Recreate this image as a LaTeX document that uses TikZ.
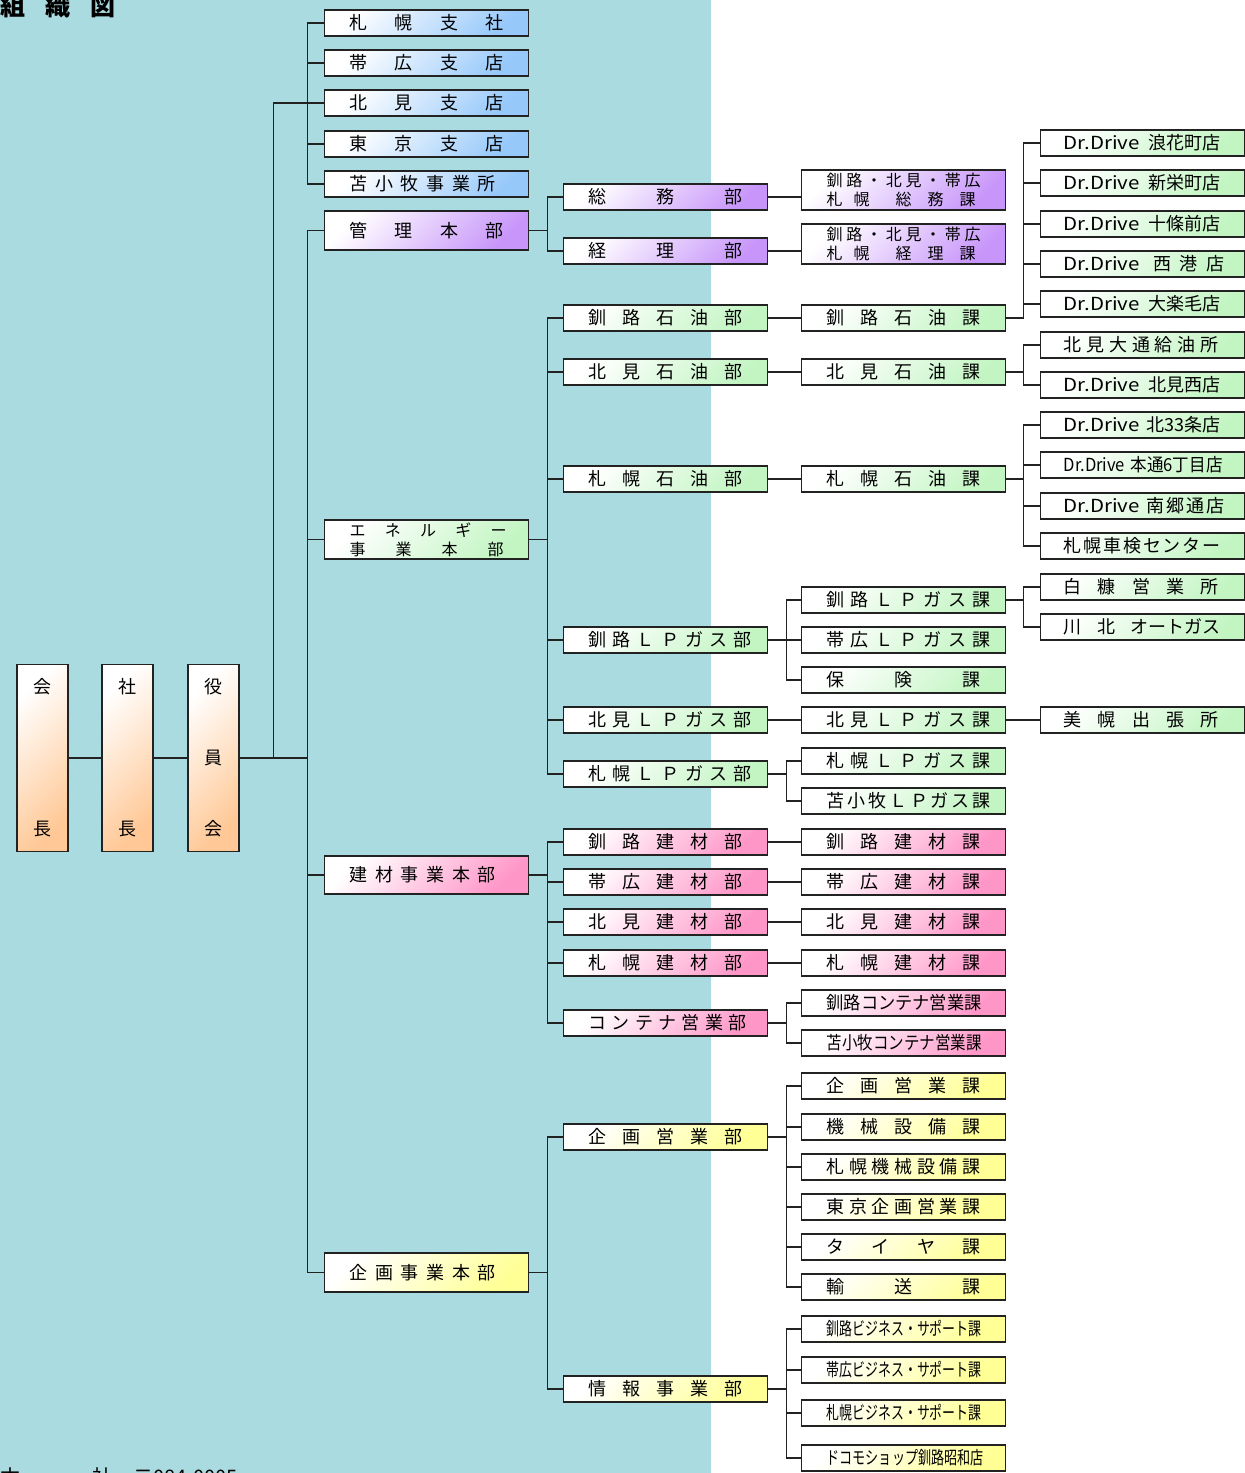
\documentclass[tikz,border=0pt]{standalone}
\usepackage{fontspec}
\setmainfont{Noto Sans CJK JP}
\usepackage{graphicx}
\usetikzlibrary{calc}

\definecolor{bgblue}{RGB}{170,219,224}
\definecolor{lineC}{RGB}{34,34,34}
\definecolor{cBlue}{RGB}{150,200,250}
\definecolor{cPurple}{RGB}{200,150,250}
\definecolor{cGreen}{RGB}{195,245,195}
\definecolor{cPink}{RGB}{255,150,200}
\definecolor{cYellow}{RGB}{255,255,150}
\definecolor{cOrange}{RGB}{255,200,150}

\newcommand{\lbl}[2][154pt]{{\spaceskip=0pt plus 1fil\xspaceskip=0pt plus 1fil\relax\makebox[#1][s]{#2}}}
\newcommand{\lblc}[2][155pt]{\resizebox{#1}{\height}{#2}}
\newcommand{\drv}{\resizebox{76pt}{\height}{Dr.Drive}}

\begin{document}
\begin{tikzpicture}[x=1pt, y=-1pt]
    \tikzstyle{box} = [draw=lineC, line width=1.3pt, rectangle, minimum width=204, minimum height=26, inner sep=0pt, text width=154pt, align=left, font=\fontsize{18}{20}\selectfont]
    \tikzstyle{bluebox} = [box, top color=white, bottom color=cBlue, shading angle=45]
    \tikzstyle{purplebox} = [box, top color=white, bottom color=cPurple, shading angle=45]
    \tikzstyle{greenbox} = [box, top color=white, bottom color=cGreen, shading angle=45]
    \tikzstyle{pinkbox} = [box, top color=white, bottom color=cPink, shading angle=45]
    \tikzstyle{yellowbox} = [box, top color=white, bottom color=cYellow, shading angle=45]
    \tikzstyle{twoline} = [minimum height=39, font=\fontsize{16}{19}\selectfont]
    \tikzstyle{shopbox} = [greenbox, text width=158pt]
    \tikzstyle{topbox} = [draw=lineC, line width=1.3pt, rectangle, minimum width=51, minimum height=187, inner sep=0pt, align=center, font=\fontsize{18}{22}\selectfont, top color=white, bottom color=cOrange, shading angle=45]
    \tikzstyle{conn} = [draw=lineC, line width=1.3pt]

    \useasboundingbox (0,0) rectangle (1245,1473);
    \fill[white] (0,0) rectangle (1245,1473);
    \fill[bgblue] (0,0) rectangle (711,1473);

    \node [anchor=base west, inner sep=0pt, font=\fontsize{25}{25}\selectfont\bfseries] (title) at (0,15) {\makebox[115pt][s]{組\hfill 織\hfill 図}};
    \node [anchor=base west, inner sep=0pt, font=\fontsize{20}{20}\selectfont] (address) at (0,1484) {\makebox[112pt][s]{本\hfill 社}\hspace{21pt}〒084-0005};

    % top
    \node [topbox] (kaicho) at (42.5,758) {会\\[120pt]長};
    \node [topbox] (shacho) at (127.5,758) {社\\[120pt]長};
    \node [topbox] (yakuin) at (213.5,758) {役\\[49pt]員\\[49pt]会};

    % branches and divisions
    \node [bluebox, anchor=west] (shisha) at (324,23) {\lbl{札 幌 支 社}};
    \node [bluebox, anchor=west] (obihiro) at (324,63) {\lbl{帯 広 支 店}};
    \node [bluebox, anchor=west] (kitami) at (324,103) {\lbl{北 見 支 店}};
    \node [bluebox, anchor=west] (tokyo) at (324,144) {\lbl{東 京 支 店}};
    \node [bluebox, anchor=west] (tomako) at (324,184) {\lbl[146pt]{苫 小 牧 事 業 所}};
    \node [purplebox, anchor=west, minimum height=39] (kanri) at (324,230.5) {\lbl{管 理 本 部}};
    \node [greenbox, twoline, anchor=west] (energy) at (324,539.5) {\lbl[157pt]{エ ネ ル ギ ー}\\\lbl{事 業 本 部}};
    \node [pinkbox, anchor=west, minimum height=38] (kenzai) at (324,875) {\lbl[146pt]{建 材 事 業 本 部}};
    \node [yellowbox, anchor=west, minimum height=39] (kikaku) at (324,1272.5) {\lbl[146pt]{企 画 事 業 本 部}};

    % departments
    \node [purplebox, anchor=west] (somu) at (563,197) {\lbl{総 務 部}};
    \node [purplebox, anchor=west] (keiri) at (563,251) {\lbl{経 理 部}};
    \node [greenbox, anchor=west] (krOil) at (563,318) {\lbl{釧 路 石 油 部}};
    \node [greenbox, anchor=west] (ktOil) at (563,372) {\lbl{北 見 石 油 部}};
    \node [greenbox, anchor=west] (spOil) at (563,479) {\lbl{札 幌 石 油 部}};
    \node [greenbox, anchor=west] (krLp) at (563,640) {\lbl[163pt]{釧 路 Ｌ Ｐ ガ ス 部}};
    \node [greenbox, anchor=west] (ktLp) at (563,720) {\lbl[163pt]{北 見 Ｌ Ｐ ガ ス 部}};
    \node [greenbox, anchor=west] (spLp) at (563,774) {\lbl[163pt]{札 幌 Ｌ Ｐ ガ ス 部}};
    \node [pinkbox, anchor=west] (krKz) at (563,842) {\lbl{釧 路 建 材 部}};
    \node [pinkbox, anchor=west] (obKz) at (563,882) {\lbl{帯 広 建 材 部}};
    \node [pinkbox, anchor=west] (ktKz) at (563,922) {\lbl{北 見 建 材 部}};
    \node [pinkbox, anchor=west] (spKz) at (563,963) {\lbl{札 幌 建 材 部}};
    \node [pinkbox, anchor=west] (cont) at (563,1023) {\lbl[158pt]{コ ン テ ナ 営 業 部}};
    \node [yellowbox, anchor=west] (kkEi) at (563,1137) {\lbl{企 画 営 業 部}};
    \node [yellowbox, anchor=west] (joho) at (563,1389) {\lbl{情 報 事 業 部}};

    % sections
    \node [purplebox, twoline, minimum height=40, anchor=west] (somuKa) at (801,190) {\lbl{釧 路 ・ 北 見 ・ 帯 広}\\札\hspace{11pt}幌\hspace{26pt}総\hspace{16pt}務\hspace{16pt}課};
    \node [purplebox, twoline, minimum height=40, anchor=west] (keiriKa) at (801,244) {\lbl{釧 路 ・ 北 見 ・ 帯 広}\\札\hspace{11pt}幌\hspace{26pt}経\hspace{16pt}理\hspace{16pt}課};
    \node [greenbox, anchor=west] (krOilKa) at (801,318) {\lbl{釧 路 石 油 課}};
    \node [greenbox, anchor=west] (ktOilKa) at (801,372) {\lbl{北 見 石 油 課}};
    \node [greenbox, anchor=west] (spOilKa) at (801,479) {\lbl{札 幌 石 油 課}};
    \node [greenbox, anchor=west] (krLpKa) at (801,600) {\lbl[164pt]{釧 路 Ｌ Ｐ ガ ス 課}};
    \node [greenbox, anchor=west] (obLpKa) at (801,640) {\lbl[164pt]{帯 広 Ｌ Ｐ ガ ス 課}};
    \node [greenbox, anchor=west] (hoken) at (801,680) {\lbl{保 険 課}};
    \node [greenbox, anchor=west] (ktLpKa) at (801,720) {\lbl[164pt]{北 見 Ｌ Ｐ ガ ス 課}};
    \node [greenbox, anchor=west] (spLpKa) at (801,761) {\lbl[164pt]{札 幌 Ｌ Ｐ ガ ス 課}};
    \node [greenbox, anchor=west] (tmLpKa) at (801,801) {\lbl[164pt]{苫 小 牧 Ｌ Ｐ ガ ス 課}};
    \node [pinkbox, anchor=west] (krKzKa) at (801,842) {\lbl{釧 路 建 材 課}};
    \node [pinkbox, anchor=west] (obKzKa) at (801,882) {\lbl{帯 広 建 材 課}};
    \node [pinkbox, anchor=west] (ktKzKa) at (801,922) {\lbl{北 見 建 材 課}};
    \node [pinkbox, anchor=west] (spKzKa) at (801,963) {\lbl{札 幌 建 材 課}};
    \node [pinkbox, anchor=west] (krCont) at (801,1003) {\lblc{釧路コンテナ営業課}};
    \node [pinkbox, anchor=west] (tmCont) at (801,1043) {\lblc{苫小牧コンテナ営業課}};
    \node [yellowbox, anchor=west] (kkEiKa) at (801,1086) {\lbl{企 画 営 業 課}};
    \node [yellowbox, anchor=west] (kikai) at (801,1127) {\lbl{機 械 設 備 課}};
    \node [yellowbox, anchor=west] (spKikai) at (801,1167) {\lbl{札 幌 機 械 設 備 課}};
    \node [yellowbox, anchor=west] (tkKikaku) at (801,1207) {\lbl{東 京 企 画 営 業 課}};
    \node [yellowbox, anchor=west] (tire) at (801,1247) {\lbl{タ イ ヤ 課}};
    \node [yellowbox, anchor=west] (yuso) at (801,1287) {\lbl{輸 送 課}};
    \node [yellowbox, anchor=west] (krBiz) at (801,1329) {\lblc{釧路ビジネス・サポート課}};
    \node [yellowbox, anchor=west] (obBiz) at (801,1370) {\lblc{帯広ビジネス・サポート課}};
    \node [yellowbox, anchor=west] (spBiz) at (801,1413) {\lblc{札幌ビジネス・サポート課}};
    \node [yellowbox, anchor=west] (docomo) at (801,1458) {\lblc[157pt]{ドコモショップ釧路昭和店}};

    % shops
    \node [shopbox, anchor=west] (naniwa) at (1040,143) {\lbl[157pt]{\drv{} 浪花町店}};
    \node [shopbox, anchor=west] (shinei) at (1040,183) {\lbl[157pt]{\drv{} 新栄町店}};
    \node [shopbox, anchor=west] (jujo) at (1040,224) {\lbl[157pt]{\drv{} 十條前店}};
    \node [shopbox, anchor=west] (nishiko) at (1040,264) {\lbl[161pt]{\drv\hspace{5pt} 西 港 店}};
    \node [shopbox, anchor=west] (otano) at (1040,304) {\lbl[157pt]{\drv{} 大楽毛店}};
    \node [shopbox, anchor=west] (odori) at (1040,345) {\lbl[155pt]{北 見 大 通 給 油 所}};
    \node [shopbox, anchor=west] (ktWest) at (1040,385) {\lbl[157pt]{\drv{} 北見西店}};
    \node [shopbox, anchor=west] (kita33) at (1040,425) {\lbl[157pt]{\drv{} 北33条店}};
    \node [shopbox, anchor=west] (hondori) at (1040,465) {\lblc[159pt]{Dr.Drive 本通6丁目店}};
    \node [shopbox, anchor=west] (nango) at (1040,506) {\lbl[161pt]{\drv\hspace{5pt} 南 郷 通 店}};
    \node [shopbox, anchor=west] (shaken) at (1040,546) {\lbl[157pt]{札 幌 車 検 セ ン タ ー}};
    \node [shopbox, anchor=west] (shiranuka) at (1040,587) {\lbl[155pt]{白 糠 営 業 所}};
    \node [shopbox, anchor=west] (kawakita) at (1040,627) {\lbl[157pt]{川 北 オートガス}};
    \node [shopbox, anchor=west] (bihoro) at (1040,720) {\lbl[155pt]{美 幌 出 張 所}};

    % connectors
    \draw [conn] (kaicho.east) -- (shacho.west);
    \draw [conn] (shacho.east) -- (yakuin.west);
    \draw [conn] (yakuin.east) -- ++(68,0) coordinate (jmain);
    \draw [conn] (yakuin.east) -- ++(34,0) |- (kitami.west);
    \coordinate (jbranch) at (kitami.west -| jmain);
    \foreach \n in {shisha,obihiro,tokyo,tomako} \draw [conn] (jbranch) |- (\n.west);
    \foreach \n in {kanri,energy,kenzai,kikaku} \draw [conn] (jmain) |- (\n.west);

    \foreach \n in {somu,keiri} \draw [conn] (kanri.east) -- ++(18,0) |- (\n.west);
    \foreach \n in {krOil,ktOil,spOil,krLp,ktLp,spLp} \draw [conn] (energy.east) -- ++(18,0) |- (\n.west);
    \foreach \n in {krKz,obKz,ktKz,spKz,cont} \draw [conn] (kenzai.east) -- ++(18,0) |- (\n.west);
    \foreach \n in {kkEi,joho} \draw [conn] (kikaku.east) -- ++(18,0) |- (\n.west);

    \draw [conn] (somu.east) -- (somu.east -| somuKa.west);
    \draw [conn] (keiri.east) -- (keiri.east -| keiriKa.west);
    \foreach \a/\b in {krOil/krOilKa,ktOil/ktOilKa,spOil/spOilKa,ktLp/ktLpKa,krKz/krKzKa,obKz/obKzKa,ktKz/ktKzKa,spKz/spKzKa} \draw [conn] (\a.east) -- (\b.west);
    \foreach \n in {krLpKa,obLpKa,hoken} \draw [conn] (krLp.east) -- ++(18,0) |- (\n.west);
    \foreach \n in {spLpKa,tmLpKa} \draw [conn] (spLp.east) -- ++(18,0) |- (\n.west);
    \foreach \n in {krCont,tmCont} \draw [conn] (cont.east) -- ++(18,0) |- (\n.west);
    \foreach \n in {kkEiKa,kikai,spKikai,tkKikaku,tire,yuso} \draw [conn] (kkEi.east) -- ++(18,0) |- (\n.west);
    \foreach \n in {krBiz,obBiz,spBiz,docomo} \draw [conn] (joho.east) -- ++(18,0) |- (\n.west);

    \foreach \n in {naniwa,shinei,jujo,nishiko,otano} \draw [conn] (krOilKa.east) -- ++(17,0) |- (\n.west);
    \foreach \n in {odori,ktWest} \draw [conn] (ktOilKa.east) -- ++(17,0) |- (\n.west);
    \foreach \n in {kita33,hondori,nango,shaken} \draw [conn] (spOilKa.east) -- ++(17,0) |- (\n.west);
    \foreach \n in {shiranuka,kawakita} \draw [conn] (krLpKa.east) -- ++(17,0) |- (\n.west);
    \draw [conn] (ktLpKa.east) -- (bihoro.west);
\end{tikzpicture}
\end{document}
